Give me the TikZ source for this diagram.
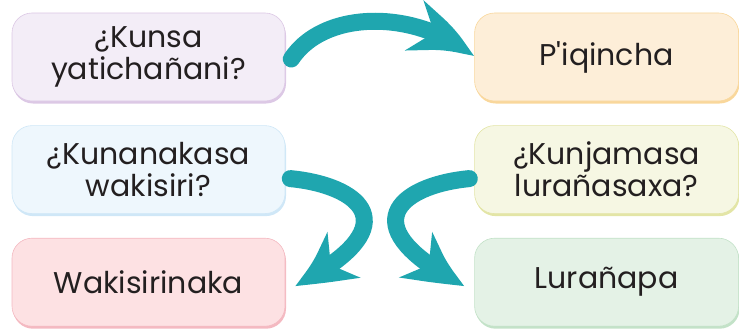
\documentclass[tikz,border=0pt]{standalone}
\usepackage{fontspec}
\setmainfont{Poppins}[Ligatures=TeXOff]
\usetikzlibrary{positioning,arrows.meta,bending,shadows}
\definecolor{texto}{HTML}{231F20}
\definecolor{flechacol}{HTML}{1FA6AF}
\definecolor{lilafondo}{HTML}{F3EDF7}
\definecolor{lilaborde}{HTML}{DCC8E5}
\definecolor{durazfondo}{HTML}{FDEED8}
\definecolor{durazborde}{HTML}{F9D79B}
\definecolor{celestefondo}{HTML}{EEF7FD}
\definecolor{celesteborde}{HTML}{CFE7F7}
\definecolor{limafondo}{HTML}{F6F7E3}
\definecolor{limaborde}{HTML}{E3E5A6}
\definecolor{rosafondo}{HTML}{FDE1E3}
\definecolor{rosaborde}{HTML}{F4B9C1}
\definecolor{verdefondo}{HTML}{E4F2E6}
\definecolor{verdeborde}{HTML}{C3E2C8}
\tikzset{%
caja/.style={rounded corners=20pt,minimum height=88pt,inner sep=0pt,align=center,
  text=texto,font=\fontsize{30}{32}\selectfont},
cajaizq/.style={caja,minimum width=273pt},
cajader/.style={caja,minimum width=264pt},
tono/.style={fill=#1fondo,draw=#1borde,line width=0.6pt,
  drop shadow={shadow xshift=1pt,shadow yshift=-2.5pt,fill=#1borde,opacity=1}},
flecha/.style={draw=flechacol,line width=17pt,line cap=round,
  -{Stealth[length=66pt,width=52pt,inset=20pt,bend]}}
}
\begin{document}
\begin{tikzpicture}[x=1pt,y=-1pt]
    \useasboundingbox (0,0) rectangle (739,329);

    \node[cajaizq,tono=lila] (kunsa) at (148.5,57) {¿Kunsa\\yatichañani?};
    \node[cajader,tono=duraz,right=189pt of kunsa] (piqincha) {P'iqincha};
    \node[cajaizq,tono=celeste,below=24pt of kunsa] (kunanakasa) {¿Kunanakasa\\wakisiri?};
    \node[cajader,tono=lima,below=24pt of piqincha] (kunjamasa) {¿Kunjamasa\\lurañasaxa?};
    \node[cajaizq,tono=rosa,below=24pt of kunanakasa] (wakisirinaka) {Wakisirinaka};
    \node[cajader,tono=verde,below=24pt of kunjamasa] (luranapa) {Lurañapa};

    \draw[flecha] ([shift={(6,2)}]kunsa.east)
        .. controls (325,8) and (420,10) .. ([shift={(-1,0)}]piqincha.west);
    \draw[flecha] ([shift={(5,9)}]kunanakasa.east)
        .. controls (358,185) and (414,225) .. ([shift={(9,4)}]wakisirinaka.east);
    \draw[flecha] ([shift={(-5,9)}]kunjamasa.west)
        .. controls (402,185) and (346,225) .. ([shift={(-9,4)}]luranapa.west);

\end{tikzpicture}
\end{document}
